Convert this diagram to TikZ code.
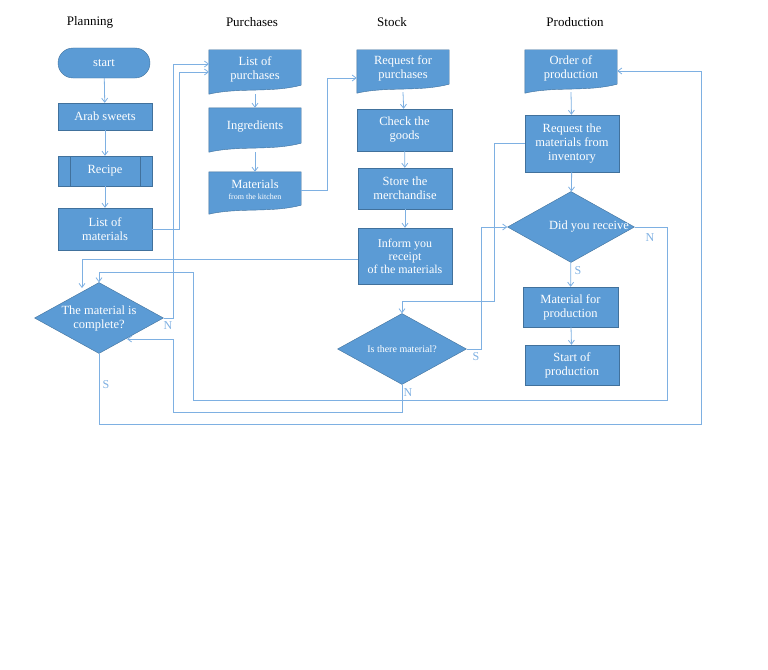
\documentclass[tikz,border=0pt]{standalone}
\usepackage{fontspec}
\setmainfont{Liberation Serif}
\usetikzlibrary{shapes.geometric,arrows.meta,backgrounds,calc}
\definecolor{fillc}{HTML}{5B9BD5}
\definecolor{edgec}{HTML}{41719C}
\definecolor{linec}{HTML}{7EB0E2}
\tikzset{
  x=1pt,y=-1pt,
  every node/.style={font=\fontsize{12.5}{14}\selectfont},
  box/.style={rectangle,fill=fillc,draw=edgec,text=white,align=center,inner sep=1pt},
  doc/.style={rectangle,text=white,align=center,inner sep=1pt,minimum width=92pt},
  dia/.style={diamond,fill=fillc,draw=edgec,text=white,align=center,inner sep=0pt,minimum width=129pt,minimum height=71pt,aspect=1.8},
  ttl/.style={font=\fontsize{13}{15}\selectfont},
  lab/.style={text=linec,font=\fontsize{12}{14}\selectfont},
  con/.style={draw=linec,line width=0.8pt,-{Straight Barb[length=4pt,width=6pt]}},
  wave/.style={fill=fillc,draw=edgec},
}
\newcommand{\docwave}[1]{%
  \path[wave] (#1.south west) -- (#1.north west) -- (#1.north east) -- ([yshift=3pt]#1.south east)
   .. controls ([xshift=-30pt,yshift=-5pt]#1.south east) and ([xshift=30pt,yshift=1pt]#1.south west) .. ([yshift=-6pt]#1.south west) -- cycle;}
\begin{document}
\begin{tikzpicture}
\useasboundingbox (0,0) rectangle (768,669);
% titles
\node[ttl] (t1) at (90,22) {Planning};
\node[ttl] (t2) at (252,22) {Purchases};
\node[ttl] (t3) at (392,22) {Stock};
\node[ttl] (t4) at (575,22) {Production};
% planning
\node[box,rounded corners=15pt,minimum width=92pt,minimum height=30pt] (start) at (104,63) {start};
\node[box,minimum width=94pt,minimum height=27pt] (arab) at (105,116.5) {Arab sweets};
\node[box,minimum width=94pt,minimum height=30pt] (recipe) at (105,171) {Recipe};
\draw[edgec] (70,156) -- (70,186) (140,156) -- (140,186);
\node[box,minimum width=94pt,minimum height=42pt] (lmat) at (105,229) {List of\\materials};
\node[dia] (comp) at (99,318) {The material is\\complete?};
% purchases
\node[doc,minimum height=38pt] (lpur) at (255,69) {List of\\purchases};
\node[doc,minimum height=38pt] (ingr) at (255,127) {Ingredients};
\node[doc,minimum height=36pt] (mkit) at (255,190) {Materials\\[-3pt]{\fontsize{8}{9}\selectfont from the kitchen}};
% stock
\node[doc,minimum height=37pt] (rpur) at (403,68.5) {Request for\\purchases};
\node[box,minimum width=95pt,minimum height=42pt] (check) at (404.5,130) {Check the\\goods};
\node[box,minimum width=94pt,minimum height=41pt] (store) at (405,188.5) {Store the\\merchandise};
\node[box,minimum width=94pt,minimum height=56pt,font=\fontsize{12}{13}\selectfont] (inform) at (405,256) {Inform you\\receipt\\of the materials};
\node[dia] (there) at (402,349) {\fontsize{10}{12}\selectfont Is there material?};
% production
\node[doc,minimum height=37pt] (order) at (571,68.5) {Order of\\production};
\node[box,minimum width=94pt,minimum height=57pt] (reqm) at (572,143.5) {Request the\\materials from\\inventory};
\node[dia,minimum width=127pt] (recv) at (571,227) {};
\node[text=white] (recvt) at (589,227) {Did you receive};
\node[box,minimum width=95pt,minimum height=40pt] (matp) at (570.5,307) {Material for\\production};
\node[box,minimum width=94pt,minimum height=40pt] (startp) at (572,365) {Start of\\production};
\begin{scope}[on background layer]
\docwave{lpur}\docwave{ingr}\docwave{mkit}\docwave{rpur}\docwave{order}
\end{scope}
% vertical flows
\draw[con] (start) -- (arab);
\draw[con] (arab) -- (recipe);
\draw[con] (recipe) -- (lmat);
\draw[con] ([yshift=-6pt]lpur.south) -- (ingr);
\draw[con] ([yshift=-6pt]ingr.south) -- (mkit);
\draw[con] ([yshift=-5pt]rpur.south) -- (check);
\draw[con] (check) -- (store);
\draw[con] (store) -- (inform);
\draw[con] ([yshift=-5pt]order.south) -- (reqm);
\draw[con] (reqm) -- (recv);
\draw[con] (recv) -- (matp);
\draw[con] (matp) -- (startp);
% cross connectors
\coordinate (pA) at (209,72);
\coordinate (pB) at (209,64);
\draw[con] (lmat.east |- 0,229) -| (179,72) -- (pA);
\draw[con] (comp.east) -| (173,64) -- (pB);
\draw[con] (mkit.east) -| (327,78) -- (rpur.west |- 0,78);
\coordinate (cTop) at (82,288);
\draw[con] (inform.west |- 0,259) -| (cTop);
\coordinate (cR) at (127,339);
\draw[con] (there.south) -- (402,412) -| (173,339) -- (cR);
\draw[con] (recv.east) -| (667,400) -| (193,272) -| (comp.north);
\draw[con] (comp.south) |- (701,424) |- (order.east |- 0,71);
\draw[con] (reqm.west) -| (494,301) -| (there.north);
\draw[con] (there.east) -| (481,227) -- (recv.west);
% labels
\node[lab] (n1) at (168,326) {N};
\node[lab] (s1) at (106,385) {S};
\node[lab] (n2) at (408,393) {N};
\node[lab] (s2) at (476,357) {S};
\node[lab] (n3) at (650,238) {N};
\node[lab] (s3) at (578,271) {S};
\end{tikzpicture}
\end{document}
